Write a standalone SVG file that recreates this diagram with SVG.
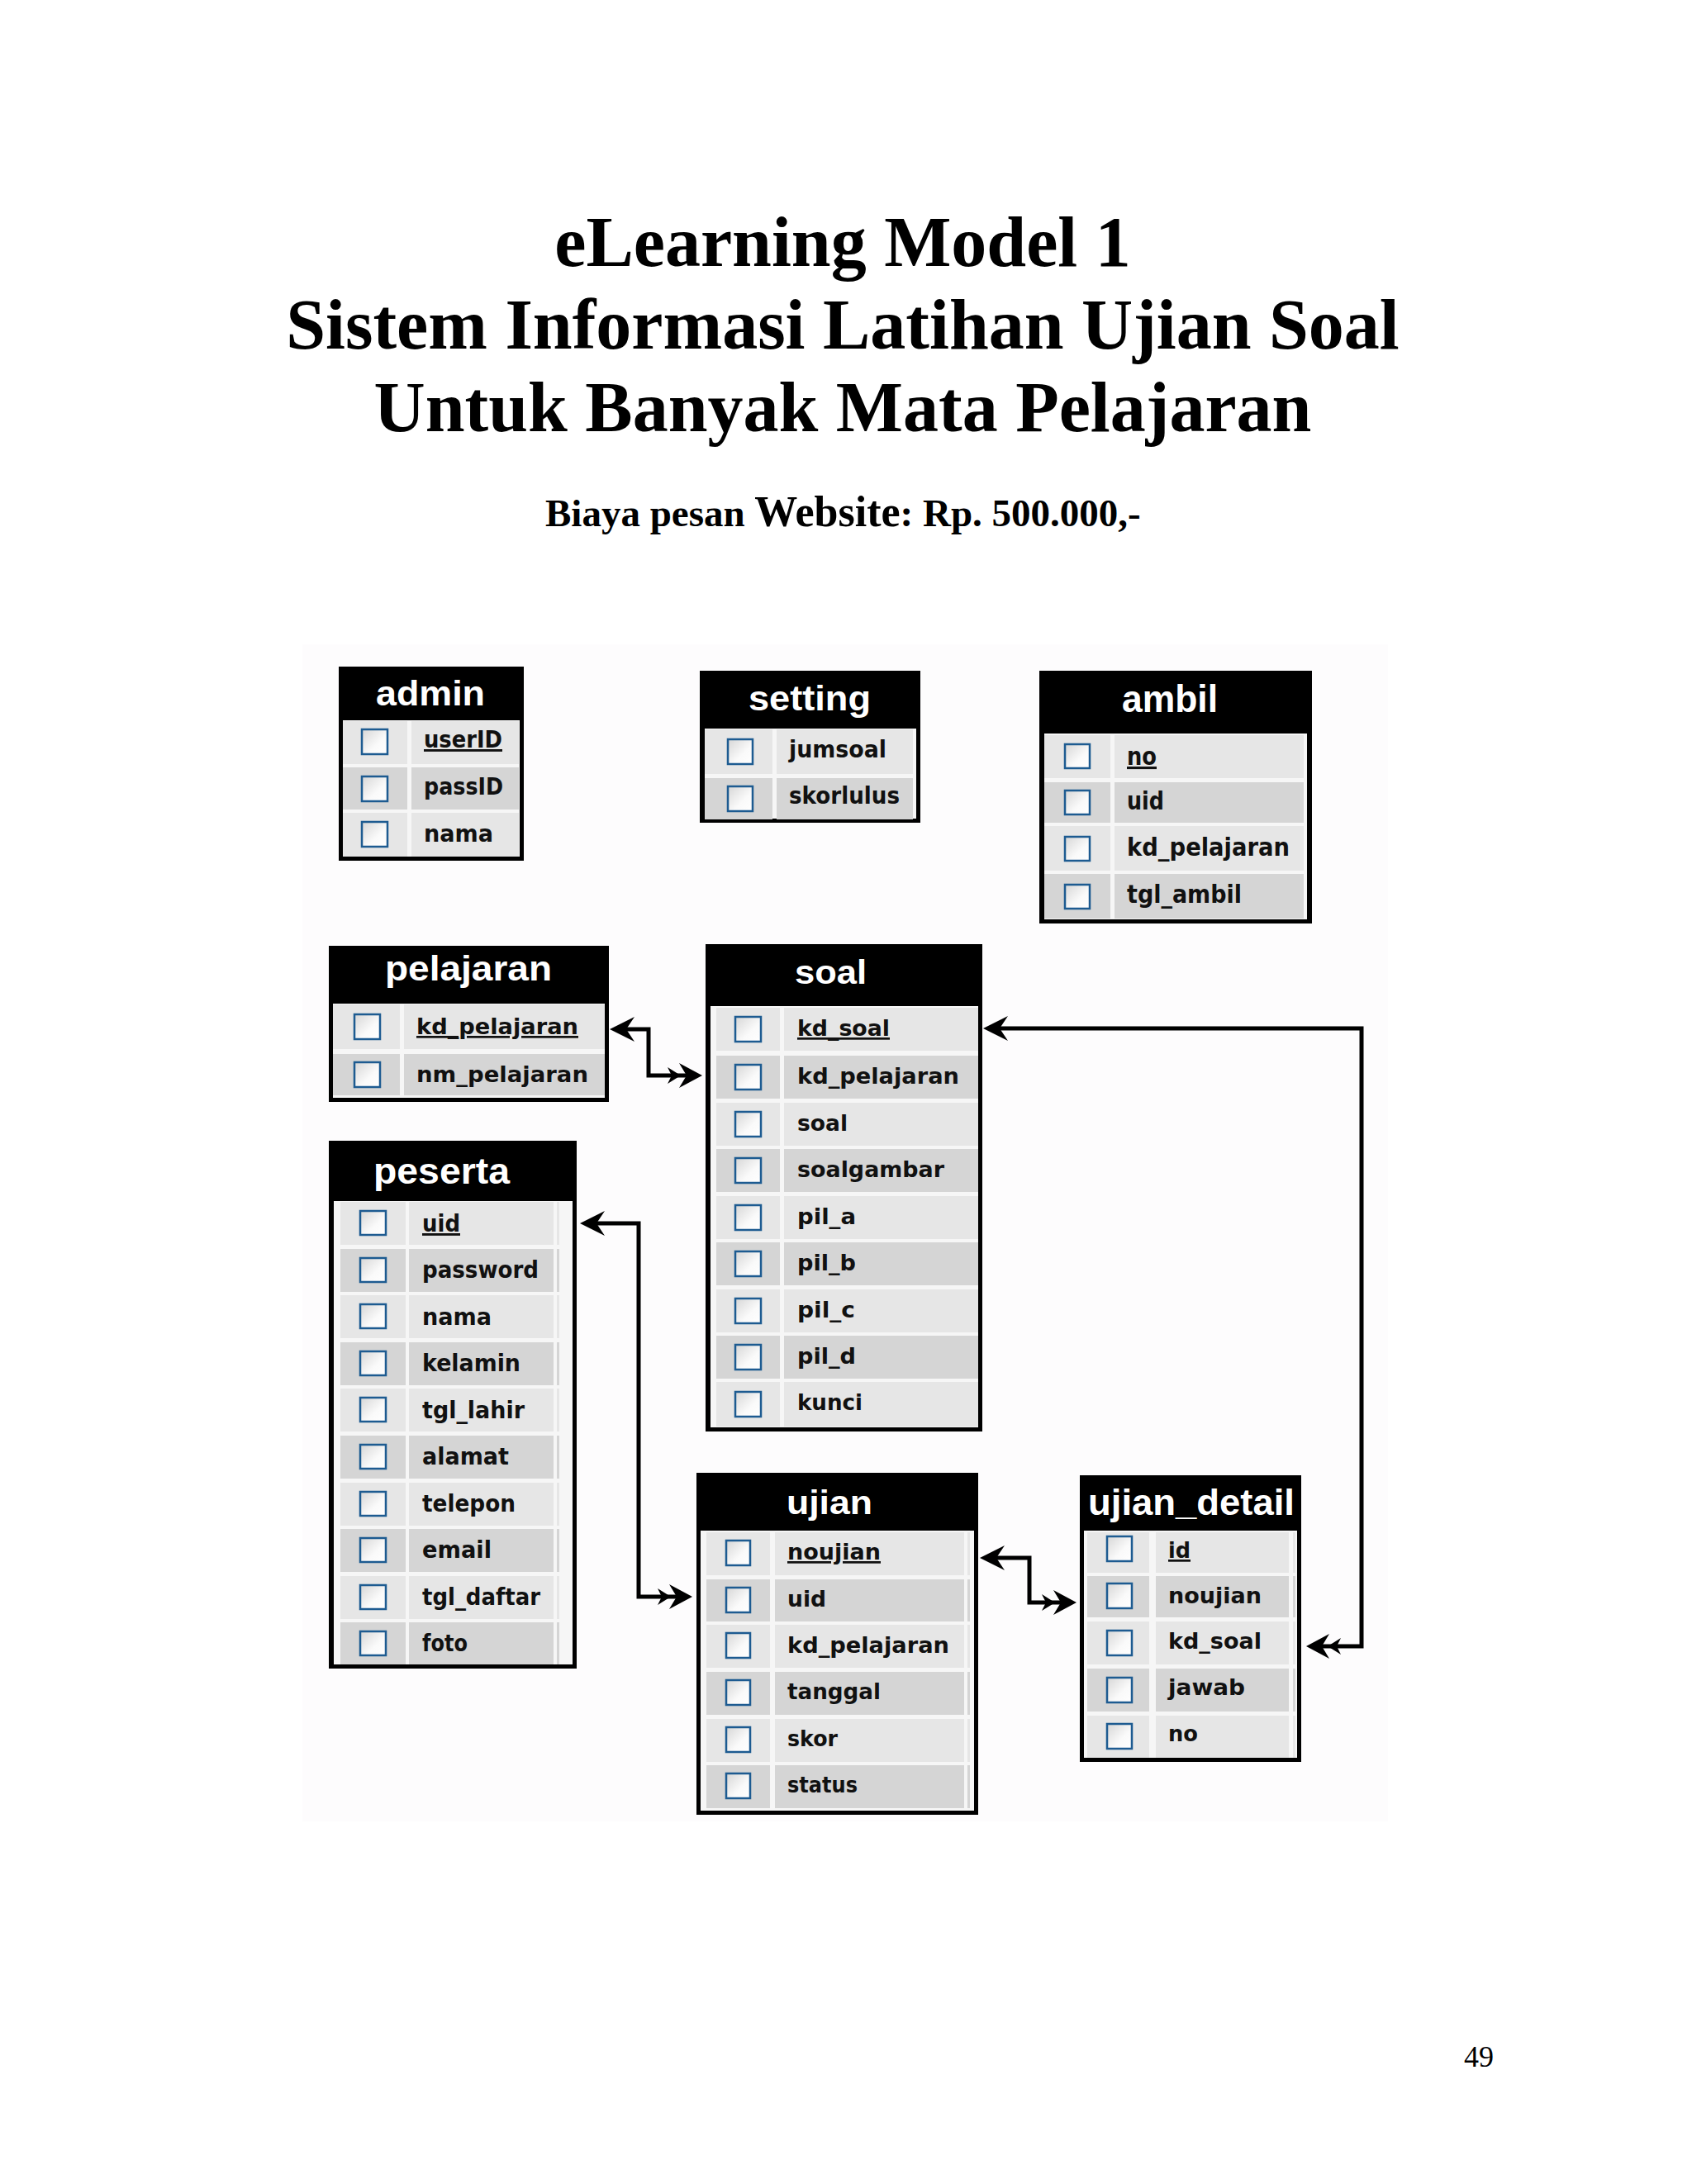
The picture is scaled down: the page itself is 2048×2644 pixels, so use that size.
<svg xmlns="http://www.w3.org/2000/svg" width="2048" height="2644" viewBox="0 0 2048 2644">
<style>
.bg{fill:#ffffff}
.area{fill:#fdfcfd}
.frame{fill:#000}
.body{fill:#f6f6f6}
.lt{fill:#e6e6e6}
.dk{fill:#d5d5d5}
.cb{fill:url(#cbg);stroke:#1d5b91;stroke-width:2.5}
.h{font-family:"Liberation Sans",Arial,sans-serif;font-weight:bold;fill:#fff}
.f{font-family:"DejaVu Sans","Liberation Sans",sans-serif;font-weight:bold;fill:#111}
.pk{text-decoration:underline}
.t{font-family:"Liberation Serif","Times New Roman",serif;font-weight:bold;fill:#000}
.conn{fill:none;stroke:#000;stroke-width:5;stroke-linejoin:miter}
</style>
<defs>
<linearGradient id="cbg" x1="0" y1="0" x2="1" y2="1">
<stop offset="0" stop-color="#d6d6d6"/>
<stop offset="0.6" stop-color="#fafafa"/>
<stop offset="1" stop-color="#ffffff"/>
</linearGradient>
<marker id="one" markerUnits="userSpaceOnUse" viewBox="-25 -17 40 34" refX="0" refY="0" markerWidth="40" markerHeight="34" orient="auto-start-reverse">
<path d="M10,0 L-20,-15 L-10,0 L-20,15 Z" fill="#000"/>
</marker>
<marker id="many" markerUnits="userSpaceOnUse" viewBox="-38 -17 52 34" refX="0" refY="0" markerWidth="52" markerHeight="34" orient="auto-start-reverse">
<path d="M10,0 L-18,-15 L-9,0 L-18,15 Z" fill="#000"/>
<path d="M-16,0 L-32,-10 L-27,0 L-32,10 Z" fill="#000"/>
</marker>
</defs>
<rect class="bg" x="0" y="0" width="2048" height="2644"/>
<rect class="area" x="366" y="780" width="1314" height="1425"/>

<g id="title">
<text class="t" x="1020" y="322" font-size="86" text-anchor="middle">eLearning Model 1</text>
<text class="t" x="1020" y="422" font-size="86" text-anchor="middle">Sistem Informasi Latihan Ujian Soal</text>
<text class="t" x="1020" y="522" font-size="86" text-anchor="middle">Untuk Banyak Mata Pelajaran</text>
<text class="t" x="660" y="637" font-size="47">Biaya pesan <tspan font-size="52">Website</tspan>: Rp. 500.000,-</text>
</g>

<g id="t-admin">
<rect class="frame" x="410" y="807" width="224" height="235"/>
<rect class="body" x="415" y="872" width="214" height="165"/>
<text class="h" x="455" y="854" font-size="42" textLength="132" lengthAdjust="spacingAndGlyphs">admin</text>
<rect class="lt" x="415" y="873" width="78" height="52"/><rect class="lt" x="498" y="873" width="130" height="52"/>
<rect class="dk" x="415" y="929" width="78" height="51"/><rect class="dk" x="498" y="929" width="130" height="51"/>
<rect class="lt" x="415" y="984" width="78" height="53"/><rect class="lt" x="498" y="984" width="130" height="53"/>
<rect class="cb" x="438" y="883" width="31" height="30"/>
<rect class="cb" x="438" y="940" width="31" height="30"/>
<rect class="cb" x="438" y="995" width="31" height="30"/>
<text class="f pk" x="513" y="905" font-size="29" textLength="95" lengthAdjust="spacingAndGlyphs">userID</text>
<text class="f" x="513" y="962" font-size="29" textLength="96" lengthAdjust="spacingAndGlyphs">passID</text>
<text class="f" x="513" y="1019" font-size="29" textLength="84" lengthAdjust="spacingAndGlyphs">nama</text>
</g>

<g id="t-setting">
<rect class="frame" x="847" y="812" width="267" height="184"/>
<rect class="body" x="853" y="882" width="256" height="109"/>
<text class="h" x="906" y="860" font-size="42" textLength="148" lengthAdjust="spacingAndGlyphs">setting</text>
<rect class="lt" x="853" y="883" width="82" height="54"/><rect class="lt" x="940" y="883" width="165" height="54"/>
<rect class="dk" x="853" y="942" width="82" height="50"/><rect class="dk" x="940" y="942" width="165" height="50"/>
<rect class="cb" x="881" y="895" width="30" height="30"/>
<rect class="cb" x="881" y="952" width="30" height="30"/>
<text class="f" x="955" y="917" font-size="29" textLength="118" lengthAdjust="spacingAndGlyphs">jumsoal</text>
<text class="f" x="955" y="973" font-size="29" textLength="134" lengthAdjust="spacingAndGlyphs">skorlulus</text>
</g>

<g id="t-ambil">
<rect class="frame" x="1258" y="812" width="330" height="306"/>
<rect class="body" x="1264" y="888" width="318" height="225"/>
<text class="h" x="1358" y="862" font-size="46" textLength="116" lengthAdjust="spacingAndGlyphs">ambil</text>
<rect class="lt" x="1264" y="890" width="80" height="52"/><rect class="lt" x="1349" y="890" width="229" height="52"/>
<rect class="dk" x="1264" y="947" width="80" height="49"/><rect class="dk" x="1349" y="947" width="229" height="49"/>
<rect class="lt" x="1264" y="1000" width="80" height="54"/><rect class="lt" x="1349" y="1000" width="229" height="54"/>
<rect class="dk" x="1264" y="1058" width="80" height="54"/><rect class="dk" x="1349" y="1058" width="229" height="54"/>
<rect class="cb" x="1289" y="901" width="30" height="29"/>
<rect class="cb" x="1289" y="957" width="30" height="29"/>
<rect class="cb" x="1289" y="1013" width="30" height="29"/>
<rect class="cb" x="1289" y="1071" width="30" height="29"/>
<text class="f pk" x="1364" y="926" font-size="31" textLength="36" lengthAdjust="spacingAndGlyphs">no</text>
<text class="f" x="1364" y="980" font-size="31" textLength="45" lengthAdjust="spacingAndGlyphs">uid</text>
<text class="f" x="1364" y="1036" font-size="31" textLength="197" lengthAdjust="spacingAndGlyphs">kd_pelajaran</text>
<text class="f" x="1364" y="1093" font-size="31" textLength="139" lengthAdjust="spacingAndGlyphs">tgl_ambil</text>
</g>

<g id="t-pelajaran">
<rect class="frame" x="398" y="1145" width="339" height="189"/>
<rect class="body" x="403" y="1215" width="329" height="114"/>
<text class="h" x="466" y="1187" font-size="42" textLength="202" lengthAdjust="spacingAndGlyphs">pelajaran</text>
<rect class="lt" x="403" y="1216" width="81" height="54"/><rect class="lt" x="489" y="1216" width="243" height="54"/>
<rect class="dk" x="403" y="1276" width="81" height="50"/><rect class="dk" x="489" y="1276" width="243" height="50"/>
<rect class="cb" x="429" y="1228" width="31" height="30"/>
<rect class="cb" x="429" y="1286" width="31" height="30"/>
<text class="f pk" x="504" y="1252" font-size="27" textLength="196" lengthAdjust="spacingAndGlyphs">kd_pelajaran</text>
<text class="f" x="504" y="1310" font-size="27" textLength="208" lengthAdjust="spacingAndGlyphs">nm_pelajaran</text>
</g>

<g id="t-soal">
<rect class="frame" x="854" y="1143" width="335" height="590"/>
<rect class="body" x="860" y="1218" width="324" height="510"/>
<text class="h" x="962" y="1191" font-size="41" textLength="87" lengthAdjust="spacingAndGlyphs">soal</text>
<rect class="lt" x="867" y="1220" width="77" height="52"/><rect class="lt" x="949" y="1220" width="235" height="52"/>
<rect class="dk" x="867" y="1278" width="77" height="52"/><rect class="dk" x="949" y="1278" width="235" height="52"/>
<rect class="lt" x="867" y="1335" width="77" height="52"/><rect class="lt" x="949" y="1335" width="235" height="52"/>
<rect class="dk" x="867" y="1391" width="77" height="52"/><rect class="dk" x="949" y="1391" width="235" height="52"/>
<rect class="lt" x="867" y="1448" width="77" height="52"/><rect class="lt" x="949" y="1448" width="235" height="52"/>
<rect class="dk" x="867" y="1504" width="77" height="52"/><rect class="dk" x="949" y="1504" width="235" height="52"/>
<rect class="lt" x="867" y="1561" width="77" height="52"/><rect class="lt" x="949" y="1561" width="235" height="52"/>
<rect class="dk" x="867" y="1617" width="77" height="52"/><rect class="dk" x="949" y="1617" width="235" height="52"/>
<rect class="lt" x="867" y="1673" width="77" height="54"/><rect class="lt" x="949" y="1673" width="235" height="54"/>
<rect class="cb" x="890" y="1231" width="31" height="30"/>
<rect class="cb" x="890" y="1289" width="31" height="30"/>
<rect class="cb" x="890" y="1346" width="31" height="30"/>
<rect class="cb" x="890" y="1402" width="31" height="30"/>
<rect class="cb" x="890" y="1459" width="31" height="30"/>
<rect class="cb" x="890" y="1515" width="31" height="30"/>
<rect class="cb" x="890" y="1572" width="31" height="30"/>
<rect class="cb" x="890" y="1628" width="31" height="30"/>
<rect class="cb" x="890" y="1685" width="31" height="30"/>
<text class="f pk" x="965" y="1254" font-size="27" textLength="112" lengthAdjust="spacingAndGlyphs">kd_soal</text>
<text class="f" x="965" y="1312" font-size="27" textLength="196" lengthAdjust="spacingAndGlyphs">kd_pelajaran</text>
<text class="f" x="965" y="1369" font-size="27" textLength="61" lengthAdjust="spacingAndGlyphs">soal</text>
<text class="f" x="965" y="1425" font-size="27" textLength="178" lengthAdjust="spacingAndGlyphs">soalgambar</text>
<text class="f" x="965" y="1482" font-size="27" textLength="71" lengthAdjust="spacingAndGlyphs">pil_a</text>
<text class="f" x="965" y="1538" font-size="27" textLength="71" lengthAdjust="spacingAndGlyphs">pil_b</text>
<text class="f" x="965" y="1595" font-size="27" textLength="70" lengthAdjust="spacingAndGlyphs">pil_c</text>
<text class="f" x="965" y="1651" font-size="27" textLength="71" lengthAdjust="spacingAndGlyphs">pil_d</text>
<text class="f" x="965" y="1707" font-size="27" textLength="79" lengthAdjust="spacingAndGlyphs">kunci</text>
</g>

<g id="t-peserta">
<rect class="frame" x="398" y="1381" width="300" height="639"/>
<rect class="body" x="404" y="1454" width="289" height="561"/>
<text class="h" x="452" y="1433" font-size="44" textLength="165" lengthAdjust="spacingAndGlyphs">peserta</text>
<rect class="lt" x="412" y="1455" width="79" height="52"/><rect class="lt" x="495" y="1455" width="175" height="52"/><rect class="lt" x="674" y="1455" width="3" height="52"/>
<rect class="dk" x="412" y="1512" width="79" height="52"/><rect class="dk" x="495" y="1512" width="175" height="52"/><rect class="dk" x="674" y="1512" width="3" height="52"/>
<rect class="lt" x="412" y="1568" width="79" height="52"/><rect class="lt" x="495" y="1568" width="175" height="52"/><rect class="lt" x="674" y="1568" width="3" height="52"/>
<rect class="dk" x="412" y="1625" width="79" height="52"/><rect class="dk" x="495" y="1625" width="175" height="52"/><rect class="dk" x="674" y="1625" width="3" height="52"/>
<rect class="lt" x="412" y="1681" width="79" height="52"/><rect class="lt" x="495" y="1681" width="175" height="52"/><rect class="lt" x="674" y="1681" width="3" height="52"/>
<rect class="dk" x="412" y="1738" width="79" height="52"/><rect class="dk" x="495" y="1738" width="175" height="52"/><rect class="dk" x="674" y="1738" width="3" height="52"/>
<rect class="lt" x="412" y="1795" width="79" height="52"/><rect class="lt" x="495" y="1795" width="175" height="52"/><rect class="lt" x="674" y="1795" width="3" height="52"/>
<rect class="dk" x="412" y="1851" width="79" height="52"/><rect class="dk" x="495" y="1851" width="175" height="52"/><rect class="dk" x="674" y="1851" width="3" height="52"/>
<rect class="lt" x="412" y="1908" width="79" height="52"/><rect class="lt" x="495" y="1908" width="175" height="52"/><rect class="lt" x="674" y="1908" width="3" height="52"/>
<rect class="dk" x="412" y="1964" width="79" height="51"/><rect class="dk" x="495" y="1964" width="175" height="51"/><rect class="dk" x="674" y="1964" width="3" height="51"/>
<rect class="cb" x="436" y="1466" width="31" height="29"/>
<rect class="cb" x="436" y="1523" width="31" height="29"/>
<rect class="cb" x="436" y="1579" width="31" height="29"/>
<rect class="cb" x="436" y="1636" width="31" height="29"/>
<rect class="cb" x="436" y="1692" width="31" height="29"/>
<rect class="cb" x="436" y="1749" width="31" height="29"/>
<rect class="cb" x="436" y="1806" width="31" height="29"/>
<rect class="cb" x="436" y="1862" width="31" height="29"/>
<rect class="cb" x="436" y="1919" width="31" height="29"/>
<rect class="cb" x="436" y="1975" width="31" height="29"/>
<text class="f pk" x="511" y="1491" font-size="29" textLength="46" lengthAdjust="spacingAndGlyphs">uid</text>
<text class="f" x="511" y="1547" font-size="29" textLength="141" lengthAdjust="spacingAndGlyphs">password</text>
<text class="f" x="511" y="1604" font-size="29" textLength="84" lengthAdjust="spacingAndGlyphs">nama</text>
<text class="f" x="511" y="1660" font-size="29" textLength="119" lengthAdjust="spacingAndGlyphs">kelamin</text>
<text class="f" x="511" y="1717" font-size="29" textLength="124" lengthAdjust="spacingAndGlyphs">tgl_lahir</text>
<text class="f" x="511" y="1773" font-size="29" textLength="105" lengthAdjust="spacingAndGlyphs">alamat</text>
<text class="f" x="511" y="1830" font-size="29" textLength="113" lengthAdjust="spacingAndGlyphs">telepon</text>
<text class="f" x="511" y="1886" font-size="29" textLength="84" lengthAdjust="spacingAndGlyphs">email</text>
<text class="f" x="511" y="1943" font-size="29" textLength="143" lengthAdjust="spacingAndGlyphs">tgl_daftar</text>
<text class="f" x="511" y="1999" font-size="29" textLength="55" lengthAdjust="spacingAndGlyphs">foto</text>
</g>

<g id="t-ujian">
<rect class="frame" x="843" y="1783" width="341" height="414"/>
<rect class="body" x="848" y="1853" width="331" height="339"/>
<text class="h" x="952" y="1833" font-size="41" textLength="104" lengthAdjust="spacingAndGlyphs">ujian</text>
<rect class="lt" x="855" y="1855" width="77" height="52"/><rect class="lt" x="938" y="1855" width="229" height="52"/><rect class="lt" x="1171" y="1855" width="3" height="52"/>
<rect class="dk" x="855" y="1912" width="77" height="51"/><rect class="dk" x="938" y="1912" width="229" height="51"/><rect class="dk" x="1171" y="1912" width="3" height="51"/>
<rect class="lt" x="855" y="1967" width="77" height="52"/><rect class="lt" x="938" y="1967" width="229" height="52"/><rect class="lt" x="1171" y="1967" width="3" height="52"/>
<rect class="dk" x="855" y="2024" width="77" height="52"/><rect class="dk" x="938" y="2024" width="229" height="52"/><rect class="dk" x="1171" y="2024" width="3" height="52"/>
<rect class="lt" x="855" y="2081" width="77" height="52"/><rect class="lt" x="938" y="2081" width="229" height="52"/><rect class="lt" x="1171" y="2081" width="3" height="52"/>
<rect class="dk" x="855" y="2137" width="77" height="52"/><rect class="dk" x="938" y="2137" width="229" height="52"/><rect class="dk" x="1171" y="2137" width="3" height="52"/>
<rect class="cb" x="879" y="1865" width="29" height="30"/>
<rect class="cb" x="879" y="1922" width="29" height="30"/>
<rect class="cb" x="879" y="1977" width="29" height="30"/>
<rect class="cb" x="879" y="2034" width="29" height="30"/>
<rect class="cb" x="879" y="2091" width="29" height="30"/>
<rect class="cb" x="879" y="2147" width="29" height="30"/>
<text class="f pk" x="953" y="1888" font-size="27" textLength="113" lengthAdjust="spacingAndGlyphs">noujian</text>
<text class="f" x="953" y="1945" font-size="27" textLength="47" lengthAdjust="spacingAndGlyphs">uid</text>
<text class="f" x="953" y="2001" font-size="27" textLength="196" lengthAdjust="spacingAndGlyphs">kd_pelajaran</text>
<text class="f" x="953" y="2057" font-size="27" textLength="113" lengthAdjust="spacingAndGlyphs">tanggal</text>
<text class="f" x="953" y="2114" font-size="27" textLength="61" lengthAdjust="spacingAndGlyphs">skor</text>
<text class="f" x="953" y="2170" font-size="27" textLength="85" lengthAdjust="spacingAndGlyphs">status</text>
</g>

<g id="t-ujian_detail">
<rect class="frame" x="1307" y="1786" width="268" height="347"/>
<rect class="body" x="1312" y="1853" width="258" height="275"/>
<text class="h" x="1317" y="1834" font-size="44" textLength="250" lengthAdjust="spacingAndGlyphs">ujian_detail</text>
<rect class="lt" x="1316" y="1855" width="75" height="49"/><rect class="lt" x="1399" y="1855" width="161" height="49"/><rect class="lt" x="1565" y="1855" width="3" height="49"/>
<rect class="dk" x="1316" y="1908" width="75" height="50"/><rect class="dk" x="1399" y="1908" width="161" height="50"/><rect class="dk" x="1565" y="1908" width="3" height="50"/>
<rect class="lt" x="1316" y="1963" width="75" height="52"/><rect class="lt" x="1399" y="1963" width="161" height="52"/><rect class="lt" x="1565" y="1963" width="3" height="52"/>
<rect class="dk" x="1316" y="2020" width="75" height="52"/><rect class="dk" x="1399" y="2020" width="161" height="52"/><rect class="dk" x="1565" y="2020" width="3" height="52"/>
<rect class="lt" x="1316" y="2077" width="75" height="51"/><rect class="lt" x="1399" y="2077" width="161" height="51"/><rect class="lt" x="1565" y="2077" width="3" height="51"/>
<rect class="cb" x="1340" y="1860" width="30" height="30"/>
<rect class="cb" x="1340" y="1917" width="30" height="30"/>
<rect class="cb" x="1340" y="1974" width="30" height="30"/>
<rect class="cb" x="1340" y="2031" width="30" height="30"/>
<rect class="cb" x="1340" y="2087" width="30" height="30"/>
<text class="f pk" x="1414" y="1886" font-size="27" textLength="27" lengthAdjust="spacingAndGlyphs">id</text>
<text class="f" x="1414" y="1941" font-size="27" textLength="113" lengthAdjust="spacingAndGlyphs">noujian</text>
<text class="f" x="1414" y="1996" font-size="27" textLength="113" lengthAdjust="spacingAndGlyphs">kd_soal</text>
<text class="f" x="1414" y="2052" font-size="27" textLength="93" lengthAdjust="spacingAndGlyphs">jawab</text>
<text class="f" x="1414" y="2108" font-size="27" textLength="36" lengthAdjust="spacingAndGlyphs">no</text>
</g>

<g id="connectors">
<path class="conn" d="M748,1246 H785 V1302 H840" marker-start="url(#one)" marker-end="url(#many)"/>
<path class="conn" d="M1200,1245 H1648 V1993 H1591" marker-start="url(#one)" marker-end="url(#many)"/>
<path class="conn" d="M712,1481 H773 V1933 H828" marker-start="url(#one)" marker-end="url(#many)"/>
<path class="conn" d="M1196,1886 H1246 V1940 H1293" marker-start="url(#one)" marker-end="url(#many)"/>
</g>

<g id="page-number">
<text x="1772" y="2502" font-family="Liberation Serif, 'Times New Roman', serif" font-size="36" fill="#000">49</text>
</g>
</svg>
